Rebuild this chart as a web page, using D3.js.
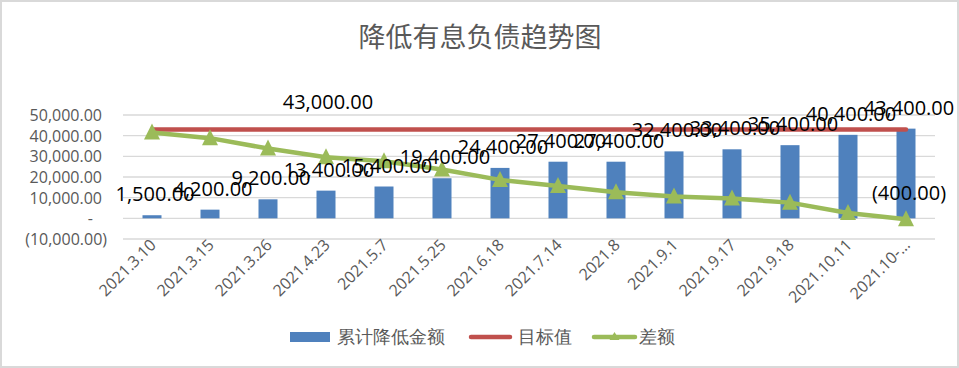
<!DOCTYPE html>
<html><head><meta charset="utf-8">
<script src="https://cdn.jsdelivr.net/npm/d3@7"></script>
<style>body{margin:0;background:#fff}svg{display:block}text{font-family:"Open Sans","Liberation Sans",sans-serif}</style>
</head><body><svg id="c" width="959" height="368"></svg>
<script>
const title = "降低有息负债趋势图";
const categories = ["2021.3.10","2021.3.15","2021.3.26","2021.4.23","2021.5.7","2021.5.25","2021.6.18","2021.7.14","2021.8","2021.9.1","2021.9.17","2021.9.18","2021.10.11","2021.10-…"];
const cumulative = [1500,4200,9200,13400,15400,19400,24400,27400,27400,32400,33400,35400,40400,43400];
const target = [43000,43000,43000,43000,43000,43000,43000,43000,43000,43000,43000,43000,43000,43000];
const diff = [41500,38800,33800,29600,27600,23600,18600,15600,12600,10600,9600,7600,2600,-400];
const yTicks = [-10000,0,10000,20000,30000,40000,50000];
const seriesNames = ["累计降低金额","目标值","差额"];

const svg = d3.select("#c");
svg.append("rect").attr("x",1).attr("y",1).attr("width",957).attr("height",366)
  .attr("fill","#fff").attr("stroke","#d9d9d9").attr("stroke-width",2);

svg.append("text").attr("x",480).attr("y",47).attr("text-anchor","middle")
  .style("font-family","'Noto Sans CJK SC',sans-serif").style("font-size","27px").attr("fill","#595959").text(title);

const x = d3.scaleBand().domain(categories).range([123,935]);
const y = d3.scaleLinear().domain([-10000,50000]).range([239,115]);
const cx = c => x(c) + x.bandwidth()/2;

const fmt = v => {
  if (v === 0) return "-";
  const s = d3.format(",.2f")(Math.abs(v));
  return v < 0 ? "(" + s + ")" : s;
};

// gridlines
svg.append("g").selectAll("line").data(yTicks).join("line")
  .attr("x1",123).attr("x2",935).attr("y1",d=>y(d)).attr("y2",d=>y(d))
  .attr("stroke","#d9d9d9").attr("stroke-width",1.3);

// y labels
svg.append("g").selectAll("text").data(yTicks).join("text")
  .attr("x",d=> d<0 ? 107 : (d===0 ? 93 : 102))
  .attr("y",d=>y(d)+6).attr("text-anchor","end")
  .style("font-size","16px").attr("fill","#595959").text(fmt);

// x labels
svg.append("g").selectAll("text").data(categories).join("text")
  .attr("transform",d=>`translate(${cx(d)+5},${246}) rotate(-45)`)
  .attr("text-anchor","end")
  .style("font-size","16px").attr("fill","#595959").text(d=>d);

// bars
const bw = 19;
svg.append("g").selectAll("rect").data(cumulative).join("rect")
  .attr("x",(d,i)=>cx(categories[i])-bw/2).attr("width",bw)
  .attr("y",d=>y(d)).attr("height",d=>y(0)-y(d)).attr("fill","#4f81bd");

// target line
const line = d3.line().x((d,i)=>cx(categories[i])).y(d=>y(d));
svg.append("path").datum(target).attr("d",line).attr("fill","none")
  .attr("stroke","#c0504d").attr("stroke-width",4.5).attr("stroke-linecap","round");

// diff line
svg.append("path").datum(diff).attr("d",line).attr("fill","none")
  .attr("stroke","#9bbb59").attr("stroke-width",4.5).attr("stroke-linejoin","round").attr("stroke-linecap","round");
const tri = "M0,-9L8,7L-8,7Z";
svg.append("g").selectAll("path").data(diff).join("path")
  .attr("transform",(d,i)=>`translate(${cx(categories[i])},${y(d)})`)
  .attr("d",tri).attr("fill","#9bbb59");

// bar labels
svg.append("g").selectAll("text").data(cumulative).join("text")
  .attr("x",(d,i)=>cx(categories[i])+3).attr("y",d=>y(d)-14)
  .attr("text-anchor","middle").style("font-size","20px").attr("fill","#000").text(fmt);

// target label (at 4th point)
svg.append("text").attr("x",cx(categories[3])+2).attr("y",y(target[3])-20)
  .attr("text-anchor","middle").style("font-size","20px").attr("fill","#000").text(fmt(target[3]));
// last diff label
const li = diff.length-1;
svg.append("text").attr("x",cx(categories[li])+3).attr("y",y(diff[li])-19)
  .attr("text-anchor","middle").style("font-size","20px").attr("fill","#000").text(fmt(diff[li]));

// legend
const lg = svg.append("g").style("font-family","'Noto Sans CJK SC',sans-serif");
lg.append("rect").attr("x",290).attr("y",332).attr("width",40).attr("height",10).attr("fill","#4f81bd");
lg.append("text").attr("x",337).attr("y",343).style("font-size","18px").attr("fill","#595959").text(seriesNames[0]);
lg.append("line").attr("x1",471).attr("x2",510).attr("y1",337).attr("y2",337).attr("stroke","#c0504d").attr("stroke-width",4.5).attr("stroke-linecap","round");
lg.append("text").attr("x",518).attr("y",343).style("font-size","18px").attr("fill","#595959").text(seriesNames[1]);
lg.append("line").attr("x1",594).attr("x2",635).attr("y1",337).attr("y2",337).attr("stroke","#9bbb59").attr("stroke-width",4.5).attr("stroke-linecap","round");
lg.append("path").attr("transform","translate(614.5,337)").attr("d","M0,-5L5,3L-5,3Z").attr("fill","#9bbb59");
lg.append("text").attr("x",639).attr("y",343).style("font-size","18px").attr("fill","#595959").text(seriesNames[2]);
</script></body></html>
